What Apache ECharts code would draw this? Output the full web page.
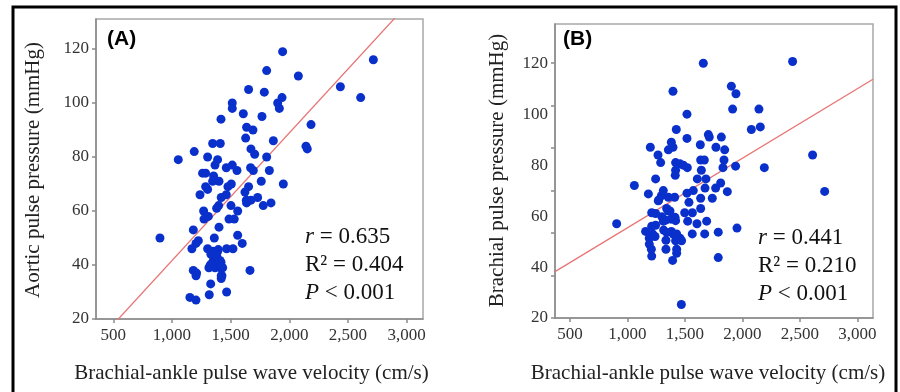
<!DOCTYPE html>
<html>
<head>
<meta charset="utf-8">
<script src="https://cdn.jsdelivr.net/npm/echarts@6/dist/echarts.min.js"></script>
<style>
html,body{margin:0;padding:0;background:#fff;}
#c{width:900px;height:392px;}
</style>
</head>
<body>
<div id="c"></div>
<script>
// ---- Data ----
const xTicks = [500, 1000, 1500, 2000, 2500, 3000];
const yTicksA = [20, 40, 60, 80, 100, 120];
const yTicksB = [20, 40, 60, 80, 100, 120];
const yTickMarksB = [20, 36.667, 53.333, 70, 86.667, 103.333, 120];

// Panel A: baPWV (cm/s) vs aortic pulse pressure (mmHg)
const aX = [1943,2716,1807,2077,2435,1653,1787,2608,1938,1901,1514,1514,1915,1608,1767,1418,2185,1636,1690,1628,
  1864,1347,1412,2142,2153,1673,1190,1705,1807,1054,1304,1389,1367,1514,1463,1670,1554,1830,1261,1287,
  1693,1355,1347,1401,1761,1477,1506,1949,1653,1287,1304,1622,1239,1463,1420,1730,1634,1673,1636,1844,
  1778,1398,1503,1381,1560,1270,1310,1273,1486,1531,1401,1182,1560,1361,898,1225,1205,1599,1170,1304,
  1466,1520,1389,1332,1381,1355,1418,1327,1381,1367,1412,1432,1315,1182,1665,1210,1205,1420,1420,1330,
  1466,1318,1153,1205,1352,1395,1409,1338,1423,1426];
const aY = [119,116,112,110,106,105,104,102,102,100,100,98,98,96,95,94,92,91,90,87,
  86,85,85,84,83,83,82,81,80,79,80,79,77,77,76,76,75,75,74,74,
  75,73,71,71,71,69,70,70,69,69,68,67,66,66,65,65,64,64,63,63,
  62,62,62,61,60,60,58,57,57,57,54,53,51,50,50,49,48,48,46,46,
  46,46,45,44,43.5,42,41,40,40,39,39,39,39,38,38,37,36,36,35,33,
  30,29,28,27,45.1,45.7,41.7,40.5,39.3,36];

// Panel B: baPWV (cm/s) vs brachial pulse pressure (mmHg)
const bX = [2437,1660,1396,1904,1944,1915,2144,1518,1425,2078,2156,1704,1712,1518,1817,1382,1199,1634,1770,1846,
  1356,1396,1266,2611,1289,1637,1669,1840,1419,1457,1486,1521,1643,1831,1941,2191,1419,1416,1245,1608,
  1683,1060,1811,1675,1767,1573,1312,1869,2716,1518,1182,1295,1356,1411,1272,1637,1738,1535,1341,1637,
  1370,1211,1498,1565,1300,1379,1419,1524,906,1605,1689,1312,1953,1158,1315,1341,1382,1564,1672,1790,
  1219,1190,1428,1457,1335,1419,1471,1190,1208,1335,1428,1428,1211,1393,1790,1469,1211,1268,1245,1333,
  1414,1245,1240,1442,1399,1355];
const bY = [120.7,120,109,111,108,102,102,100,94,94,95,92,91,90.5,91,89,87,88,87,86,
  86,87,84,84,81,82,82,82,81,80.5,80,79,78,79,79.6,79,78,76,74.6,74.6,
  74.6,72,73,71,71,70,70,69.6,69.7,69,68.7,68,67.4,67.4,66.3,67,67,65.4,63,63,
  62,61.3,61.3,61.3,59.7,58.8,58.2,58,57,57,58,58,55.3,54,54.5,53.6,54,53,53,53.7,
  53,51.3,53,51.3,50.5,50.3,50.3,49,47,47,47,45.4,44.3,42.6,43.7,25.3,56,66,61,58.4,
  59.5,56.4,52,51.6,52.9,62];

// Regression lines (endpoints in data units at the axis extents)
const fitA = [[353, 11.0], [3139, 142.8]];
const fitB = [[369.5, 38.2], [3136.6, 113.7]];

// Stats text
const statsA = ['0.635', '0.404', '0.001'];
const statsB = ['0.441', '0.210', '0.001'];

const pairs = (xs, ys) => xs.map((x, i) => [x, ys[i]]);
const fmt = v => String(v).replace(/\B(?=(\d{3})+(?!\d))/g, ',');

const SERIF = '"Liberation Serif","Times New Roman",serif';
const SANS = '"Liberation Sans",Arial,sans-serif';
const AX = '#8a8a8a';
const DOT = '#0a30cc';
const LINE = '#e87474';

function xAxis(gi, min, max) {
  return {
    gridIndex: gi, type: 'value', min: min, max: max,
    axisLine: {lineStyle: {color: AX, width: 1.5}},
    axisTick: {show: true, length: 4, customValues: xTicks, lineStyle: {color: AX, width: 1.5}},
    axisLabel: {customValues: xTicks, formatter: fmt, margin: 8, color: '#333', fontFamily: SERIF, fontSize: 17},
    splitLine: {show: false}
  };
}
function yAxis(gi, min, max, labels, ticks) {
  return {
    gridIndex: gi, type: 'value', min: min, max: max,
    axisLine: {show: true, lineStyle: {color: AX, width: 1.5}},
    axisTick: {show: true, length: 4, customValues: ticks, lineStyle: {color: AX, width: 1.5}},
    axisLabel: {customValues: labels, margin: 7, color: '#333', fontFamily: SERIF, fontSize: 17},
    splitLine: {show: false}
  };
}
function statText(x, y0, vals) {
  const rich = {i: {fontStyle: 'italic', fontFamily: SERIF, fontSize: 23, fill: '#111'}};
  const base = {fontFamily: SERIF, fontSize: 23, fill: '#111', align: 'left', verticalAlign: 'middle', rich: rich};
  return [
    {type: 'text', x: x, y: y0, style: Object.assign({}, base, {text: '{i|r} = ' + vals[0]})},
    {type: 'text', x: x, y: y0 + 28, style: Object.assign({}, base, {text: 'R\u00B2 = ' + vals[1]})},
    {type: 'text', x: x, y: y0 + 56, style: Object.assign({}, base, {text: '{i|P} < ' + vals[2]})}
  ];
}

const chart = echarts.init(document.getElementById('c'), null, {renderer: 'canvas'});
chart.setOption({
  animation: false,
  backgroundColor: '#fff',
  grid: [
    {left: 96, top: 19, width: 327, height: 300, show: true, borderColor: '#a8a8a8', borderWidth: 1.5},
    {left: 555, top: 24, width: 318, height: 294, show: true, borderColor: '#a8a8a8', borderWidth: 1.5}
  ],
  xAxis: [xAxis(0, 353, 3139), xAxis(1, 369.5, 3136.6)],
  yAxis: [yAxis(0, 20, 131.1, yTicksA, yTicksA), yAxis(1, 20, 135.4, yTicksB, yTickMarksB)],
  series: [
    {type: 'line', xAxisIndex: 0, yAxisIndex: 0, data: fitA, symbol: 'none', clip: true,
     lineStyle: {color: LINE, width: 1.3}, silent: true, z: 1},
    {type: 'scatter', xAxisIndex: 0, yAxisIndex: 0, data: pairs(aX, aY), symbolSize: 9,
     itemStyle: {color: DOT, opacity: 1}, z: 2},
    {type: 'line', xAxisIndex: 1, yAxisIndex: 1, data: fitB, symbol: 'none', clip: true,
     lineStyle: {color: LINE, width: 1.3}, silent: true, z: 1},
    {type: 'scatter', xAxisIndex: 1, yAxisIndex: 1, data: pairs(bX, bY), symbolSize: 9,
     itemStyle: {color: DOT, opacity: 1}, z: 2}
  ],
  graphic: [
    {type: 'rect', shape: {x: 13, y: 7, width: 883, height: 400}, style: {fill: 'none', stroke: '#000', lineWidth: 3}, z: 100},
    {type: 'text', x: 107, y: 39, style: {text: '(A)', fontFamily: SANS, fontWeight: 'bold', fontSize: 21, fill: '#000', verticalAlign: 'middle'}},
    {type: 'text', x: 563, y: 39, style: {text: '(B)', fontFamily: SANS, fontWeight: 'bold', fontSize: 21, fill: '#000', verticalAlign: 'middle'}},
    {type: 'text', x: 33, y: 170, rotation: Math.PI / 2,
     style: {text: 'Aortic pulse pressure (mmHg)', fontFamily: SERIF, fontSize: 21, fill: '#222', align: 'center', verticalAlign: 'middle'}},
    {type: 'text', x: 497, y: 170.5, rotation: Math.PI / 2,
     style: {text: 'Brachial pulse pressure (mmHg)', fontFamily: SERIF, fontSize: 21, fill: '#222', align: 'center', verticalAlign: 'middle'}},
    {type: 'text', x: 251.5, y: 373,
     style: {text: 'Brachial-ankle pulse wave velocity (cm/s)', fontFamily: SERIF, fontSize: 21, fill: '#222', align: 'center', verticalAlign: 'middle'}},
    {type: 'text', x: 708, y: 373,
     style: {text: 'Brachial-ankle pulse wave velocity (cm/s)', fontFamily: SERIF, fontSize: 21, fill: '#222', align: 'center', verticalAlign: 'middle'}}
  ].concat(statText(305, 237, statsA), statText(758, 238, statsB))
});
</script>
</body>
</html>
